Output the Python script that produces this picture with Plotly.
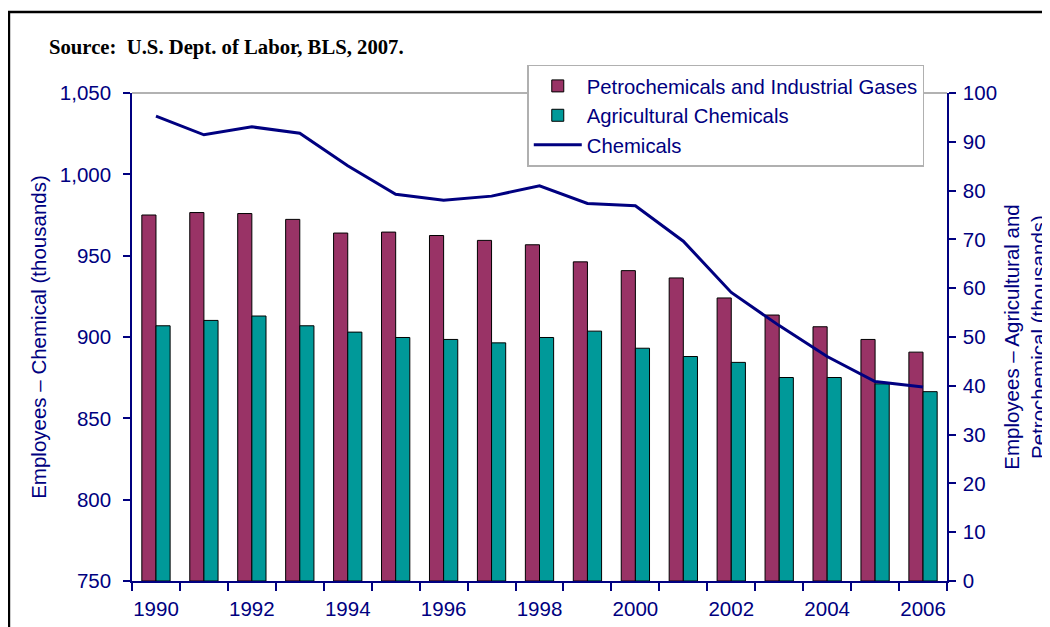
import plotly.graph_objects as go

years = list(range(1990, 2007))
petro = [75.0, 75.5, 75.3, 74.1, 71.3, 71.5, 70.8, 69.8, 68.9, 65.4, 63.6, 62.1, 58.0, 54.5, 52.1, 49.5, 46.9]
agri = [52.3, 53.4, 54.3, 52.3, 51.0, 49.9, 49.5, 48.8, 49.9, 51.2, 47.7, 46.0, 44.8, 41.7, 41.7, 40.4, 38.8]
chemicals = [1035.8, 1024.3, 1029.2, 1025.3, 1005.3, 987.8, 984.1, 986.6, 993.0, 982.1, 980.7, 958.9, 927.4, 907.0, 888.0, 872.6, 869.3]
xtick_labels = [str(y) for y in range(1990, 2007, 2)]

NAVY = "#000080"
FONT = "Liberation Sans, Arial, sans-serif"

# the page body has an 8px margin, so the figure is 8px smaller and offset
W, H = 1042, 619

fig = go.Figure()
fig.add_trace(go.Bar(x=years, y=petro, name="Petrochemicals and Industrial Gases",
                     marker=dict(color="#993366", line=dict(color="black", width=1)),
                     yaxis="y"))
fig.add_trace(go.Bar(x=years, y=agri, name="Agricultural Chemicals",
                     marker=dict(color="#009999", line=dict(color="black", width=1)),
                     yaxis="y"))
fig.add_trace(go.Scatter(x=years, y=chemicals, name="Chemicals", mode="lines",
                         line=dict(color=NAVY, width=3), yaxis="y2"))

fig.update_layout(
    width=W, height=H,
    paper_bgcolor="white", plot_bgcolor="white",
    margin=dict(l=124, r=103, t=85, b=46, autoexpand=False),
    barmode="group", bargap=0.41, bargroupgap=0,
    font=dict(family=FONT, size=20, color=NAVY),
    title=dict(text="<b>Source:  U.S. Dept. of Labor, BLS, 2007.</b>",
               font=dict(family="Liberation Serif, Times New Roman, serif", size=20.7, color="black"),
               xref="container", yref="container", x=41 / W, xanchor="left",
               y=1 - 39 / H, yanchor="middle"),
    xaxis=dict(range=[1989.5, 2006.5], tickvals=[int(t) for t in xtick_labels], ticktext=xtick_labels,
               ticks="", showline=True, linecolor=NAVY, linewidth=1.5, showgrid=False, zeroline=False,
               ticklabelstandoff=9,
               minor=dict(tick0=1989.5, dtick=1, ticks="outside", ticklen=8, tickcolor=NAVY, tickwidth=1.5, showgrid=False),
               tickfont=dict(size=20.5, color=NAVY)),
    yaxis=dict(range=[0, 100], dtick=10, side="right", showline=True, linecolor=NAVY, linewidth=1.5,
               ticks="outside", ticklen=7, tickcolor=NAVY, tickwidth=1.5, showgrid=False, zeroline=False,
               ticklabelstandoff=3,
               title=dict(text="Employees – Agricultural and<br>Petrochemical (thousands)", standoff=10,
                          font=dict(size=20.5, color=NAVY)),
               tickfont=dict(size=20.5, color=NAVY)),
    yaxis2=dict(range=[750, 1050], dtick=50, side="left", overlaying="y", tickformat=",",
                showline=True, linecolor=NAVY, linewidth=1.5,
                ticks="outside", ticklen=7, tickcolor=NAVY, tickwidth=1.5, showgrid=False, zeroline=False,
                ticklabelstandoff=8,
                title=dict(text="Employees – Chemical (thousands)", standoff=8, font=dict(size=20.5, color=NAVY)),
                tickfont=dict(size=20.5, color=NAVY)),
    legend=dict(x=0.485, y=1.058, xanchor="left", yanchor="top", bgcolor="white",
                bordercolor="#b0b0b0", borderwidth=1.5, font=dict(size=20.3, color=NAVY),
                tracegroupgap=0, itemwidth=48),
    showlegend=True,
    shapes=[
        dict(type="line", xref="paper", yref="paper", x0=0, x1=1, y0=1, y1=1,
             line=dict(color="#999999", width=1.5), layer="below"),
        dict(type="rect", xref="paper", yref="paper",
             x0=(1 - 124) / 814.7, x1=1.2, y0=-0.2, y1=1 + (85 - 4) / 487.4,
             line=dict(color="black", width=2.5), fillcolor="rgba(0,0,0,0)"),
    ],
)

fig.write_html("out.html")
